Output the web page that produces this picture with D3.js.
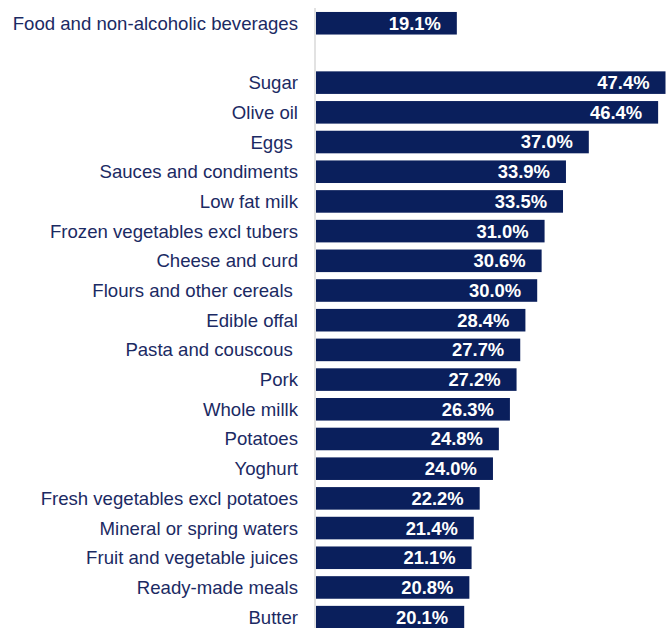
<!DOCTYPE html>
<html>
<head>
<meta charset="utf-8">
<script src="https://cdn.jsdelivr.net/npm/d3@7"></script>
<style>
  html, body { margin: 0; padding: 0; background: #ffffff; }
  svg { display: block; }
  .cat { white-space: pre; }
</style>
</head>
<body>
<div id="chart"></div>
<script>
// Categories, top to bottom ("" leaves an empty row after the total)
const categories = [
  "Food and non-alcoholic beverages",
  "",
  "Sugar",
  "Olive oil",
  "Eggs ",
  "Sauces and condiments",
  "Low fat milk",
  "Frozen vegetables excl tubers",
  "Cheese and curd",
  "Flours and other cereals ",
  "Edible offal",
  "Pasta and couscous ",
  "Pork",
  "Whole millk",
  "Potatoes",
  "Yoghurt",
  "Fresh vegetables excl potatoes",
  "Mineral or spring waters",
  "Fruit and vegetable juices",
  "Ready-made meals",
  "Butter"
];

// Percentage change per category (null for the spacer row)
const values = [
  19.1, null, 47.4, 46.4, 37.0, 33.9, 33.5, 31.0, 30.6, 30.0,
  28.4, 27.7, 27.2, 26.3, 24.8, 24.0, 22.2, 21.4, 21.1, 20.8, 20.1
];

const width = 672, height = 628;
const x0 = 316;

const svg = d3.select("#chart").append("svg")
  .attr("width", width)
  .attr("height", height);

const x = d3.scaleLinear().domain([0, 47.4]).range([x0, 665.5]);

const y = d3.scaleBand()
  .domain(categories.map((c, i) => i))
  .range([8.4, 632])
  .paddingInner(0.24)
  .paddingOuter(0.12);

const rows = categories.map((c, i) => ({ cat: c, value: values[i], i }));

// Category axis line
svg.append("line")
  .attr("x1", 315).attr("x2", 315)
  .attr("y1", 8).attr("y2", height)
  .attr("stroke", "#d9d9d9")
  .attr("stroke-width", 1.5);

// Bars
svg.selectAll("rect.bar")
  .data(rows.filter(d => d.value != null))
  .join("rect")
  .attr("class", "bar")
  .attr("x", x(0))
  .attr("y", d => y(d.i))
  .attr("width", d => x(d.value) - x(0))
  .attr("height", y.bandwidth())
  .attr("fill", "#0a1f5c");

// Category labels
svg.selectAll("text.cat")
  .data(rows.filter(d => d.cat !== ""))
  .join("text")
  .attr("class", "cat")
  .attr("x", 298)
  .attr("y", d => y(d.i) + y.bandwidth() / 2)
  .attr("dy", "0.35em")
  .attr("text-anchor", "end")
  .attr("font-family", "Liberation Sans, Arial, sans-serif")
  .attr("font-size", 18.6)
  .attr("fill", "#1b2a63")
  .text(d => d.cat);

// Value labels inside bar ends
svg.selectAll("text.val")
  .data(rows.filter(d => d.value != null))
  .join("text")
  .attr("class", "val")
  .attr("x", d => x(d.value) - 16)
  .attr("y", d => y(d.i) + y.bandwidth() / 2)
  .attr("dy", "0.35em")
  .attr("text-anchor", "end")
  .attr("font-family", "Liberation Sans, Arial, sans-serif")
  .attr("font-size", 18.4)
  .attr("font-weight", "bold")
  .attr("fill", "#ffffff")
  .text(d => d.value.toFixed(1) + "%");
</script>
</body>
</html>
